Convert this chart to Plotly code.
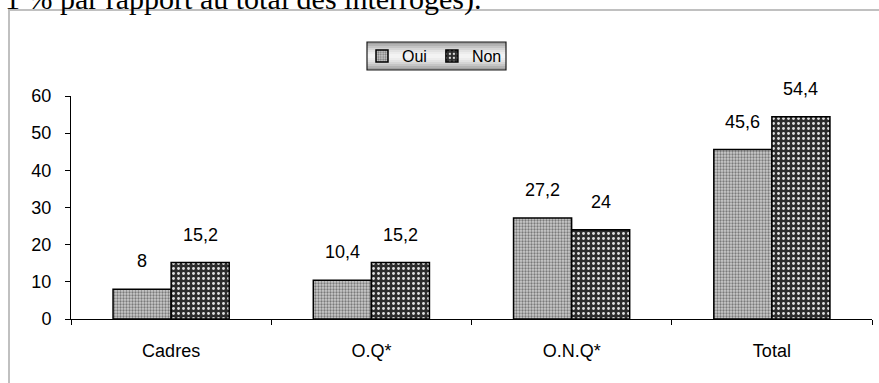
import plotly.graph_objects as go

# Survey results by socio-professional category (% of all respondents)
categories = ["Cadres", "O.Q*", "O.N.Q*", "Total"]
oui = [8, 10.4, 27.2, 45.6]
non = [15.2, 15.2, 24, 54.4]
series_names = ["Oui", "Non"]
y_ticks = [0, 10, 20, 30, 40, 50, 60]

W, H = 879, 383
ML, MR, MT, MB = 71, 7, 96, 64
PW, PH = W - ML - MR, H - MT - MB


def px_x(p):
    return (p - ML) / PW


def px_y(p):
    return 1 + (MT - p) / PH


def fmt(v):
    return f"{v:g}".replace(".", ",")


fig = go.Figure()

fig.add_trace(go.Bar(
    name=series_names[0], x=categories, y=oui,
    marker=dict(
        color="#c4c4c4",
        line=dict(color="#000000", width=1.5),
        pattern=dict(shape=".", fgcolor="#7a7a7a", bgcolor="#cccccc",
                     size=3, solidity=0.45, fillmode="replace"),
    ),
))
fig.add_trace(go.Bar(
    name=series_names[1], x=categories, y=non,
    marker=dict(
        color="#3a3a3a",
        line=dict(color="#000000", width=1.5),
        pattern=dict(shape=".", fgcolor="#e0e0e0", bgcolor="#2c2c2c",
                     size=5, solidity=0.26, fillmode="replace"),
    ),
))

# value labels above each bar
annotations = []
for vals, shift in ((oui, -29), (non, 29)):
    for c, v in zip(categories, vals):
        annotations.append(dict(
            x=c, y=v, xref="x", yref="y", text=fmt(v), showarrow=False,
            xshift=shift, yshift=16, yanchor="bottom",
            font=dict(family="Liberation Sans, Arial", size=18, color="#000"),
        ))

# trailing line of the caption above the chart frame
annotations.append(dict(
    x=px_x(3), y=px_y(18), xref="paper", yref="paper", xanchor="left",
    yanchor="bottom", showarrow=False,
    text="1 % par rapport au total des interrogés).",
    font=dict(family="Liberation Serif, Times New Roman", size=30, color="#000"),
))

shapes = [
    # chart frame
    dict(type="rect", xref="paper", yref="paper",
         x0=px_x(9), x1=px_x(W + 20), y0=px_y(H + 20), y1=px_y(10),
         line=dict(color="#c0c0c0", width=2), fillcolor="rgba(0,0,0,0)",
         layer="below"),
]

# legend box with a vertical gray gradient
lx0, lx1, ly0, ly1 = 367, 506, 42, 70
steps = 14
for i in range(steps):
    t = i / (steps - 1)
    d = abs(t - 0.5) * 2
    g = int(245 - 85 * d ** 1.6)
    shapes.append(dict(
        type="rect", xref="paper", yref="paper",
        x0=px_x(lx0), x1=px_x(lx1),
        y0=px_y(ly0 + (ly1 - ly0) * (i + 1) / steps),
        y1=px_y(ly0 + (ly1 - ly0) * i / steps),
        line=dict(width=0), fillcolor=f"rgb({g},{g},{g})", layer="below",
    ))
shapes.append(dict(
    type="rect", xref="paper", yref="paper",
    x0=px_x(lx0), x1=px_x(lx1), y0=px_y(ly1), y1=px_y(ly0),
    line=dict(color="#1a1a1a", width=1.2), fillcolor="rgba(0,0,0,0)",
    layer="below",
))

fig.update_layout(
    width=W, height=H,
    margin=dict(l=ML, r=MR, t=MT, b=MB, pad=0),
    paper_bgcolor="white", plot_bgcolor="white",
    barmode="group", bargap=0.42, bargroupgap=0,
    font=dict(family="Liberation Sans, Arial", size=18, color="#000"),
    showlegend=True,
    legend=dict(
        orientation="h", x=px_x((lx0 + lx1) / 2 - 2), y=px_y((ly0 + ly1) / 2),
        xanchor="center", yanchor="middle", bgcolor="rgba(0,0,0,0)",
        font=dict(size=16), itemwidth=30, tracegroupgap=0,
    ),
    annotations=annotations,
    shapes=shapes,
)

fig.update_xaxes(
    showline=True, linecolor="#000", linewidth=1,
    ticks="outside", ticklen=5, tickcolor="#000", tickson="boundaries",
    showgrid=False, ticklabelstandoff=15,
)
fig.update_yaxes(
    range=[0, 60], tickvals=y_ticks, showline=True, linecolor="#000",
    linewidth=1, ticks="outside", ticklen=5, tickcolor="#000",
    showgrid=False, zeroline=False, ticklabelstandoff=10,
)

fig.write_html("out.html")
